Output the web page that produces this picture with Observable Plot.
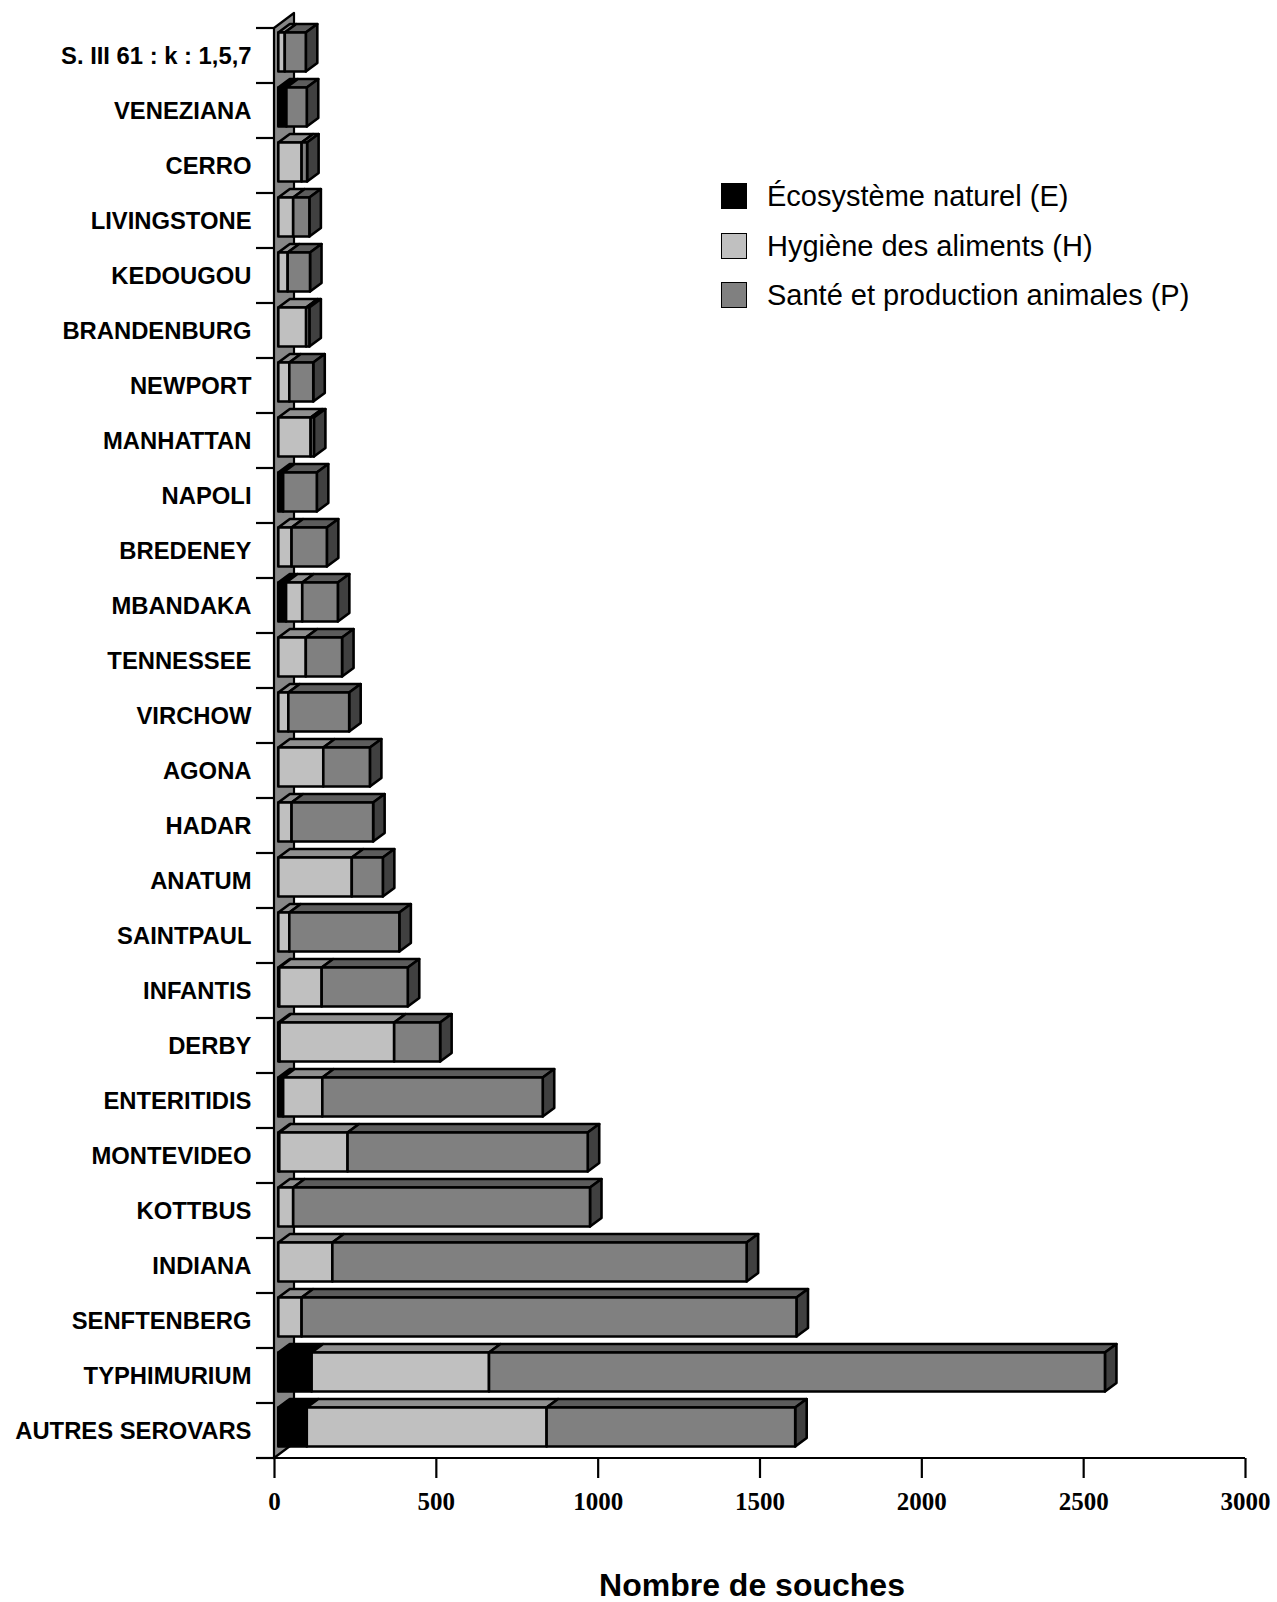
<!DOCTYPE html>
<html>
<head>
<meta charset="utf-8">
<script src="https://cdn.jsdelivr.net/npm/d3@7"></script>
<script src="https://cdn.jsdelivr.net/npm/@observablehq/plot@0.6"></script>
<style>
  html, body { margin: 0; padding: 0; background: #fff; }
  #wrap { position: relative; width: 1277px; height: 1602px; overflow: hidden; background: #fff; }
  #legend { position: absolute; left: 721px; top: 0; font-family: "Liberation Sans", Arial, sans-serif; font-size: 29px; color: #000; }
  #legend .row { position: absolute; left: 0; height: 30px; line-height: 30px; white-space: nowrap; }
  #legend .sw { position: absolute; left: 0; top: 2px; width: 26px; height: 26px; border: 1.5px solid #000; box-sizing: border-box; }
  #legend .lab { position: absolute; left: 46px; top: 0; }
  #title { position: absolute; left: 0; width: 1504px; text-align: center; top: 1567px; line-height: 32px;
           font: bold 32px "Liberation Sans", Arial, sans-serif; color: #000; }
</style>
</head>
<body>
<div id="wrap">
  <div id="chart"></div>
  <div id="legend"></div>
  <div id="title"></div>
</div>
<script>
// Salmonella serovars, number of strains by origin
const serovars = [
  "S. III 61 : k : 1,5,7", "VENEZIANA", "CERRO", "LIVINGSTONE", "KEDOUGOU", "BRANDENBURG",
  "NEWPORT", "MANHATTAN", "NAPOLI", "BREDENEY", "MBANDAKA", "TENNESSEE", "VIRCHOW", "AGONA",
  "HADAR", "ANATUM", "SAINTPAUL", "INFANTIS", "DERBY", "ENTERITIDIS", "MONTEVIDEO", "KOTTBUS",
  "INDIANA", "SENFTENBERG", "TYPHIMURIUM", "AUTRES SEROVARS"
];
const ecosysteme = [0, 25, 0, 0, 0, 0, 0, 0, 15, 0, 24, 0, 0, 0, 0, 0, 0, 3, 4, 15, 3, 0, 0, 0, 103, 88];
const hygiene    = [20, 0, 72, 46, 29, 86, 34, 100, 0, 41, 50, 85, 31, 139, 41, 227, 34, 131, 354, 121, 211, 46, 167, 72, 548, 741];
const sante      = [65, 63, 17, 50, 69, 10, 74, 10, 104, 109, 110, 112, 188, 144, 252, 96, 340, 266, 142, 681, 742, 917, 1280, 1529, 1903, 768];
const sources = ["Écosystème naturel (E)", "Hygiène des aliments (H)", "Santé et production animales (P)"];
const xTicks = [0, 500, 1000, 1500, 2000, 2500, 3000];
const xTitle = "Nombre de souches";

// Shading of the three faces of each block
const frontShade = ["#000000", "#c0c0c0", "#808080"];
const topShade   = ["#000000", "#8f8f8f", "#5c5c5c"];
const sideShade  = ["#000000", "#7a7a7a", "#404040"];
const wallShade  = "#878787";

// Oblique projection offsets (pixels)
const FRONT = {dx: 4.3, dy: -3.5};   // bar front plane relative to chart front
const DEPTH = {dx: 11.5, dy: -8.5};  // bar thickness
const WALL  = {dx: 20, dy: -15};     // side wall thickness
const PAD_INNER = 0.29;
const EDGE = 2.6;

const series = [ecosysteme, hygiene, sante];
const table = [];
serovars.forEach((s, i) => series.forEach((arr, k) => {
  if (arr[i] > 0) table.push({serovar: s, source: sources[k], value: arr[i]});
}));

function bandGeometry(y) {
  const step = y(serovars[1]) - y(serovars[0]);
  const bw = typeof y.bandwidth === "function" ? y.bandwidth() : step * (1 - PAD_INNER);
  return {step, bw, pad: (step - bw) / 2};
}

const poly = pts => "M" + pts.map(p => p.join(",")).join("L") + "Z";

// Side wall behind the bars
function wall(index, {x, y}) {
  const {bw, pad} = bandGeometry(y);
  const top = y(serovars[0]) - pad;
  const bottom = y(serovars[serovars.length - 1]) + bw + pad;
  const x0 = x(0);
  const g = d3.create("svg:g");
  g.append("path")
    .attr("d", poly([[x0, bottom], [x0, top], [x0 + WALL.dx, top + WALL.dy], [x0 + WALL.dx, bottom + WALL.dy]]))
    .attr("fill", wallShade).attr("stroke", "#000").attr("stroke-width", 2.2).attr("stroke-linejoin", "round");
  return g.node();
}

// Top faces of each stacked segment and the right face of the last segment
function faces(index, {x, y}) {
  const {bw} = bandGeometry(y);
  const g = d3.create("svg:g").attr("stroke", "#000").attr("stroke-width", EDGE).attr("stroke-linejoin", "round");
  serovars.forEach((s, i) => {
    const yt = y(s) + FRONT.dy, yb = yt + bw;
    let acc = 0, last = null;
    series.forEach((arr, k) => {
      const v = arr[i];
      if (!(v > 0)) return;
      const xa = x(acc) + FRONT.dx, xb = x(acc + v) + FRONT.dx;
      acc += v;
      g.append("path")
        .attr("d", poly([[xa, yt], [xb, yt], [xb + DEPTH.dx, yt + DEPTH.dy], [xa + DEPTH.dx, yt + DEPTH.dy]]))
        .attr("fill", topShade[k]);
      last = {xb, k};
    });
    if (last) {
      g.append("path")
        .attr("d", poly([[last.xb, yt], [last.xb + DEPTH.dx, yt + DEPTH.dy], [last.xb + DEPTH.dx, yb + DEPTH.dy], [last.xb, yb]]))
        .attr("fill", sideShade[last.k]);
    }
  });
  return g.node();
}

// Category separators on the wall edge and the baseline of the value axis
function frame(index, {x, y}) {
  const {bw, pad} = bandGeometry(y);
  const x0 = x(0);
  const bounds = serovars.map(s => y(s) - pad);
  bounds.push(y(serovars[serovars.length - 1]) + bw + pad);
  const g = d3.create("svg:g").attr("stroke", "#000").attr("stroke-width", 2.2);
  bounds.forEach(b => g.append("line").attr("x1", x0 - 18).attr("x2", x0).attr("y1", b).attr("y2", b));
  const yb = bounds[bounds.length - 1];
  g.append("line").attr("x1", x0).attr("x2", x(xTicks[xTicks.length - 1])).attr("y1", yb).attr("y2", yb);
  return g.node();
}

const chart = Plot.plot({
  width: 1277,
  height: 1540,
  marginLeft: 274,
  marginRight: 32,
  marginTop: 28,
  marginBottom: 82,
  style: {background: "white", color: "black"},
  x: {domain: [0, 3000], label: null},
  y: {domain: serovars, paddingInner: PAD_INNER, paddingOuter: PAD_INNER / 2, label: null},
  color: {domain: sources, range: frontShade},
  marks: [
    wall,
    faces,
    Plot.barX(table, {
      x: "value", y: "serovar", fill: "source",
      stroke: "#000", strokeWidth: EDGE, strokeLinejoin: "round",
      dx: FRONT.dx, dy: FRONT.dy
    }),
    frame,
    Plot.axisY({
      tickSize: 0, tickPadding: 23,
      fontSize: 23.8, fontWeight: "bold", fontFamily: "Liberation Sans, Arial, sans-serif"
    }),
    Plot.axisX({
      ticks: xTicks, tickFormat: "d", tickSize: 20, tickPadding: 14, strokeWidth: 2.2,
      fontSize: 25, fontWeight: "bold", fontFamily: "Liberation Serif, Times New Roman, serif"
    })
  ]
});
document.getElementById("chart").appendChild(chart);

// Legend
const legendCenters = [196, 246, 295];
const legend = document.getElementById("legend");
sources.forEach((s, k) => {
  const row = document.createElement("div");
  row.className = "row";
  row.style.top = (legendCenters[k] - 15) + "px";
  const sw = document.createElement("div");
  sw.className = "sw";
  sw.style.background = frontShade[k];
  const lab = document.createElement("div");
  lab.className = "lab";
  lab.textContent = s;
  row.appendChild(sw);
  row.appendChild(lab);
  legend.appendChild(row);
});

document.getElementById("title").textContent = xTitle;
</script>
</body>
</html>
